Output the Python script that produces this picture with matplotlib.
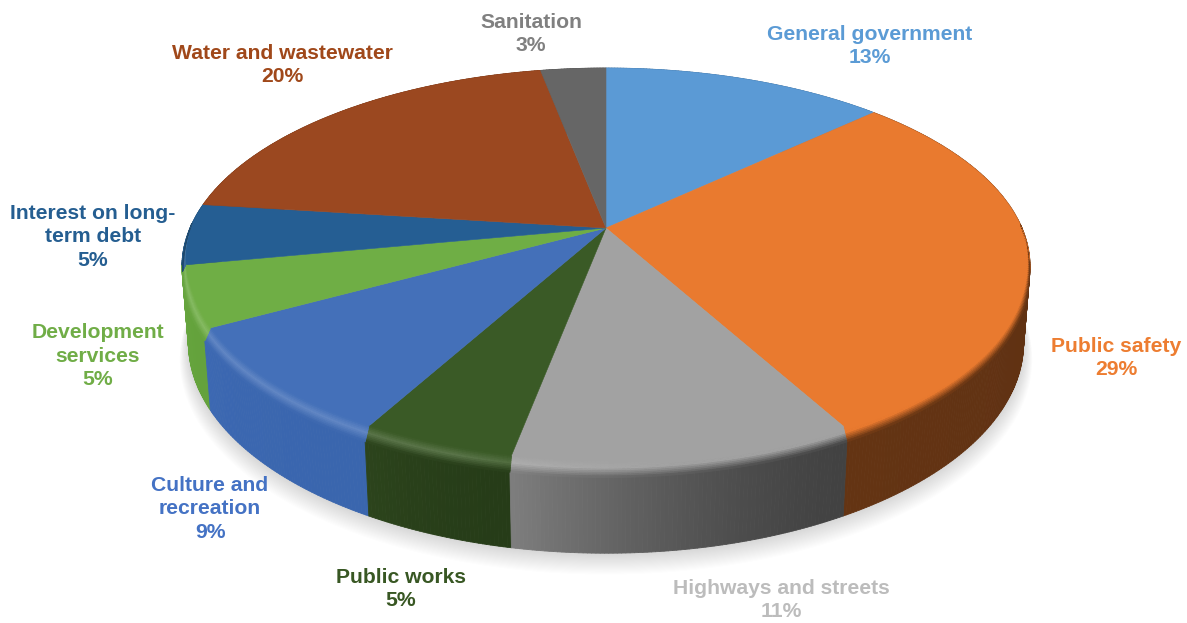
import matplotlib
matplotlib.use("Agg")
import matplotlib.pyplot as plt
import numpy as np
from matplotlib.collections import PolyCollection
from matplotlib.colors import to_rgb

plt.rcParams['font.family'] = ['Liberation Sans', 'DejaVu Sans']

# Expenses by function, in percent, clockwise from twelve o'clock
names = ["General government", "Public safety", "Highways and streets", "Public works",
         "Culture and\nrecreation", "Development\nservices", "Interest on long-\nterm debt",
         "Water and wastewater", "Sanitation"]
values = [13, 29, 11, 5, 9, 5, 5, 20, 3]

top_colors = ["#5b9ad5", "#e97a2f", "#a2a2a2", "#3a5a26", "#4470b9", "#6fae45", "#255e93", "#9b4820", "#666666"]
# wall colour at the start and the end of each slice
wall_start = ["#3a6a96", "#5e3012", "#424242", "#263c18", "#3a66ae", "#64a23c", "#1a4468", "#6e3010", "#484848"]
wall_end = ["#3a6a96", "#643413", "#7e7e7e", "#2c441c", "#3c68b2", "#66a53e", "#1a4468", "#6e3010", "#484848"]
label_colors = ["#5b9bd5", "#ed7d31", "#bcbcbc", "#385723", "#4472c4", "#70ad47", "#255e91", "#a0481a", "#808080"]
label_pos = [(870, 46), (1116, 358), (781, 600), (401, 589), (210, 509), (98, 356), (93, 237), (282, 65), (531, 34)]

# Perspective set-up of the disc, in pixels
CX, CY = 606, 228
RX, RY = 416, 191
TILT = 0.194
DEPTH = 76
SHRINK = 0.015


def project(r, theta, z=0.0):
    """Disc point to pixel position; theta runs clockwise from the top, z from 0 (top) to 1 (base)."""
    w = 1 + TILT * r * np.cos(theta) + SHRINK * z
    x = CX + RX * r * np.sin(theta) / w
    y = CY + (-RY * r * np.cos(theta) + DEPTH * z) / w
    return x, y


def mix(a, b, t):
    return tuple(np.array(a) * (1 - t) + np.array(b) * t)


def band(ax, polys, colors, zorder):
    ax.add_collection(PolyCollection(polys, facecolors=colors, edgecolors=colors, linewidths=0.6, zorder=zorder))


def wall_color(i, theta, start, end):
    t = ((theta - start) / (end - start)) ** 1.6
    return mix(to_rgb(wall_start[i]), to_rgb(wall_end[i]), t)


fig = plt.figure(figsize=(11.87, 6.23), dpi=100, facecolor='white')
ax = fig.add_axes([0, 0, 1, 1])
ax.set_xlim(0, 1187)
ax.set_ylim(623, 0)
ax.axis('off')

edges = np.cumsum([0] + values) / sum(values) * 2 * np.pi
spans = list(zip(edges[:-1], edges[1:]))

# Soft shadow under the base
around = np.linspace(0, 2 * np.pi, 361)
for i in range(20):
    grow = 1 + 0.001 * (20 - i)
    sx, sy = project(grow, around, 1.0)
    ax.fill(sx, sy + 0.75 * (20 - i), color='#666666', alpha=0.012, lw=0, zorder=1)

# Outer walls, the ones facing the viewer go last so they stay in front
for i in sorted(range(len(values)), key=lambda n: -abs(sum(spans[n]) / 2 - np.pi)):
    start, end = spans[i]
    th = np.linspace(start, end, max(int((end - start) * 120), 4) + 1)
    polys, colors = [], []
    for a, b in zip(th[:-1], th[1:]):
        polys.append([project(1, a, 0), project(1, b, 0), project(1, b, 1), project(1, a, 1)])
        colors.append(wall_color(i, (a + b) / 2, start, end))
    band(ax, polys, colors, 2)

for i, (start, end) in enumerate(spans):
    top = to_rgb(top_colors[i])
    th = np.linspace(start, end, max(int((end - start) * 120), 4) + 1)

    # Flat top of the slice
    tx, ty = project(1, th)
    ax.fill(np.r_[CX, tx], np.r_[CY, ty], color=top, lw=0.4, zorder=3)

    # Rounded rim between the top and the wall, tapering out towards the back
    polys, colors = [], []
    levels = np.linspace(0, 1, 11)
    for a, b in zip(th[:-1], th[1:]):
        mid = (a + b) / 2
        fade = np.clip((-np.cos(mid) + 0.02) / 0.35, 0, 1)
        if fade <= 0:
            continue
        wall = wall_color(i, mid, start, end)
        glow = 0.16 * np.clip((np.degrees(mid) - 172) / 25, 0, 1)
        light = mix(top, (1, 1, 1), glow)
        for s, t in zip(levels[:-1], levels[1:]):
            r0, r1 = 1 - 0.015 * fade * (1 - s), 1 - 0.015 * fade * (1 - t)
            z0, z1 = 0.14 * fade * s, 0.14 * fade * t
            polys.append([project(r0, a, z0), project(r0, b, z0), project(r1, b, z1), project(r1, a, z1)])
            u = (s + t) / 2
            if u < 0.45:
                colors.append(mix(top, light, u / 0.45))
            else:
                colors.append(mix(light, wall, (u - 0.45) / 0.55))
    if polys:
        band(ax, polys, colors, 4)

# Data labels
for name, value, color, (lx, ly) in zip(names, values, label_colors, label_pos):
    ax.text(lx, ly, f"{name}\n{value}%", color=color, fontsize=15.2, fontweight='bold',
            ha='center', va='center', linespacing=1.33, zorder=5)

fig.savefig("out.png", dpi=100, facecolor='white')
